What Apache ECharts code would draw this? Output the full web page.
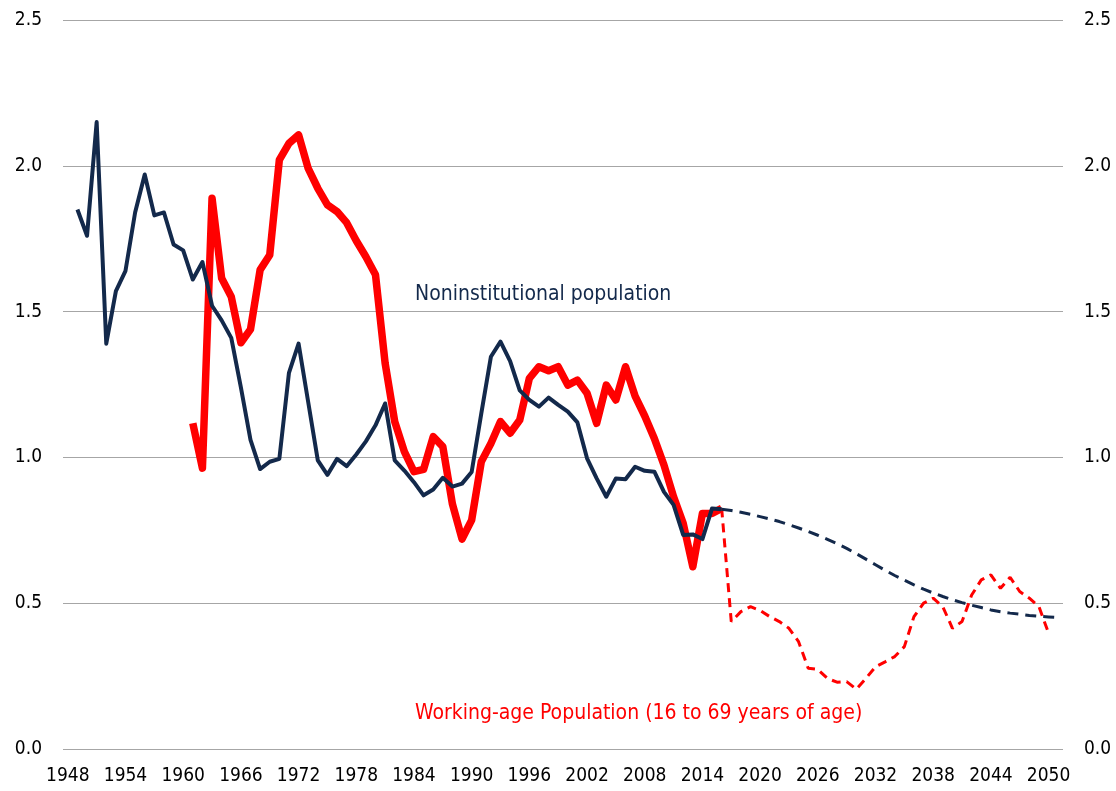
<!DOCTYPE html>
<html>
<head>
<meta charset="utf-8">
<script src="https://cdn.jsdelivr.net/npm/echarts@6/dist/echarts.min.js"></script>
<style>
  html, body { margin: 0; padding: 0; background: #fff; }
  #my_echart { width: 1116px; height: 791px; }
</style>
</head>
<body>
<div id="my_echart"></div>
<script>
// years on the category axis (2051 has no label but carries the last projected point)
var years = [];
for (var y = 1948; y <= 2051; y++) years.push(String(y));

// Noninstitutional population, 1949-2016 (actual)
var noninstStart = 1949;
var noninstHist = [
    1.85, 1.76, 2.15, 1.39, 1.57, 1.64, 1.84, 1.97, 1.83, 1.84,
    1.73, 1.71, 1.61, 1.67, 1.52, 1.47, 1.41, 1.24, 1.06, 0.96,
    0.985, 0.995, 1.29, 1.39, 1.19, 0.99, 0.94, 0.995, 0.97, 1.01,
    1.055, 1.11, 1.185, 0.99, 0.955, 0.915, 0.87, 0.89, 0.93, 0.90,
    0.91, 0.95, 1.15, 1.345, 1.397, 1.33, 1.23, 1.197, 1.174, 1.205,
    1.18, 1.157, 1.12, 0.997, 0.928, 0.865, 0.928, 0.925, 0.968, 0.954,
    0.951, 0.882, 0.837, 0.734, 0.736, 0.72, 0.825, 0.822
];
// Noninstitutional population, 2016-2051 (projection)
var noninstProjStart = 2016;
var noninstProj = [
    0.822, 0.818, 0.812, 0.805, 0.797, 0.789, 0.78, 0.769, 0.758, 0.746,
    0.733, 0.719, 0.704, 0.688, 0.67, 0.651, 0.632, 0.613, 0.595, 0.579,
    0.563, 0.548, 0.535, 0.523, 0.512, 0.502, 0.493, 0.485, 0.477, 0.471,
    0.466, 0.462, 0.458, 0.455, 0.453, 0.451
];
// Working-age population (16 to 69), 1961-2016 (actual)
var workingStart = 1961;
var workingHist = [
    1.117, 0.963, 1.889, 1.614, 1.551, 1.393, 1.439, 1.643, 1.694, 2.02,
    2.077, 2.106, 1.991, 1.923, 1.866, 1.843, 1.805, 1.743, 1.688, 1.626,
    1.323, 1.123, 1.02, 0.951, 0.959, 1.071, 1.037, 0.84, 0.72, 0.785,
    0.985, 1.048, 1.123, 1.083, 1.128, 1.271, 1.311, 1.297, 1.311, 1.248,
    1.265, 1.22, 1.117, 1.248, 1.197, 1.311, 1.21, 1.142, 1.065, 0.974,
    0.865, 0.774, 0.625, 0.808, 0.808, 0.825
];
// Working-age population, 2016-2050 (projection)
var workingProjStart = 2016;
var workingProj = [
    0.825, 0.437, 0.471, 0.488, 0.475, 0.454, 0.437, 0.414, 0.368, 0.277,
    0.273, 0.242, 0.229, 0.231, 0.205, 0.242, 0.282, 0.299, 0.317, 0.351,
    0.454, 0.5, 0.517, 0.488, 0.414, 0.437, 0.528, 0.58, 0.597, 0.551,
    0.589, 0.54, 0.517, 0.488, 0.397
];

var yTicks = [0, 0.5, 1.0, 1.5, 2.0, 2.5];

// place a series on the full year axis, null elsewhere
function alignToYears(start, values) {
    var out = [];
    for (var i = 0; i < years.length; i++) {
        var k = Number(years[i]) - start;
        out.push(k >= 0 && k < values.length ? values[k] : null);
    }
    return out;
}

var NAVY = '#13294B';
var RED = '#FF0000';
var FONT = '"Liberation Sans Narrow", "Arial Narrow", "DejaVu Sans Condensed", sans-serif';

var mychart = echarts.init(document.getElementById('my_echart'));

var yAxisBase = {
    type: 'value',
    min: yTicks[0],
    max: yTicks[yTicks.length - 1],
    interval: 0.5,
    axisLine: { show: false },
    axisTick: { show: false },
    axisLabel: {
        color: '#000',
        fontFamily: FONT,
        fontSize: 19,
        margin: 21,
        formatter: function (v) { return v.toFixed(1); }
    }
};

mychart.setOption({
    animation: false,
    grid: {
        left: 63,
        right: 53,
        top: 20,
        bottom: 42,
        containLabel: false
    },
    xAxis: {
        type: 'category',
        data: years,
        boundaryGap: true,
        axisLine: { show: false },
        axisTick: { show: false },
        axisLabel: {
            interval: 5,
            color: '#000',
            fontFamily: FONT,
            fontSize: 19,
            margin: 18
        }
    },
    yAxis: [
        Object.assign({}, yAxisBase, {
            position: 'left',
            splitLine: { show: true, lineStyle: { color: '#a6a6a6', width: 1 } }
        }),
        Object.assign({}, yAxisBase, {
            position: 'right',
            splitLine: { show: false }
        })
    ],
    series: [
        {
            name: 'Working-age (actual)',
            type: 'line',
            data: alignToYears(workingStart, workingHist),
            showSymbol: false,
            lineStyle: { color: RED, width: 7.5, join: 'round' },
            z: 2
        },
        {
            name: 'Working-age (projection)',
            type: 'line',
            data: alignToYears(workingProjStart, workingProj),
            showSymbol: false,
            lineStyle: { color: RED, width: 3, type: [9, 6] },
            z: 2
        },
        {
            name: 'Noninstitutional (actual)',
            type: 'line',
            data: alignToYears(noninstStart, noninstHist),
            showSymbol: false,
            lineStyle: { color: NAVY, width: 4, join: 'round' },
            z: 3
        },
        {
            name: 'Noninstitutional (projection)',
            type: 'line',
            data: alignToYears(noninstProjStart, noninstProj),
            showSymbol: false,
            lineStyle: { color: NAVY, width: 3, type: [11, 7] },
            z: 3
        }
    ],
    graphic: [
        {
            type: 'text',
            left: 415,
            top: 284,
            style: {
                text: 'Noninstitutional population',
                fill: NAVY,
                font: '21px ' + FONT
            }
        },
        {
            type: 'text',
            left: 415,
            top: 703,
            style: {
                text: 'Working-age Population (16 to 69 years of age)',
                fill: RED,
                font: '21px ' + FONT
            }
        }
    ]
});
</script>
</body>
</html>
